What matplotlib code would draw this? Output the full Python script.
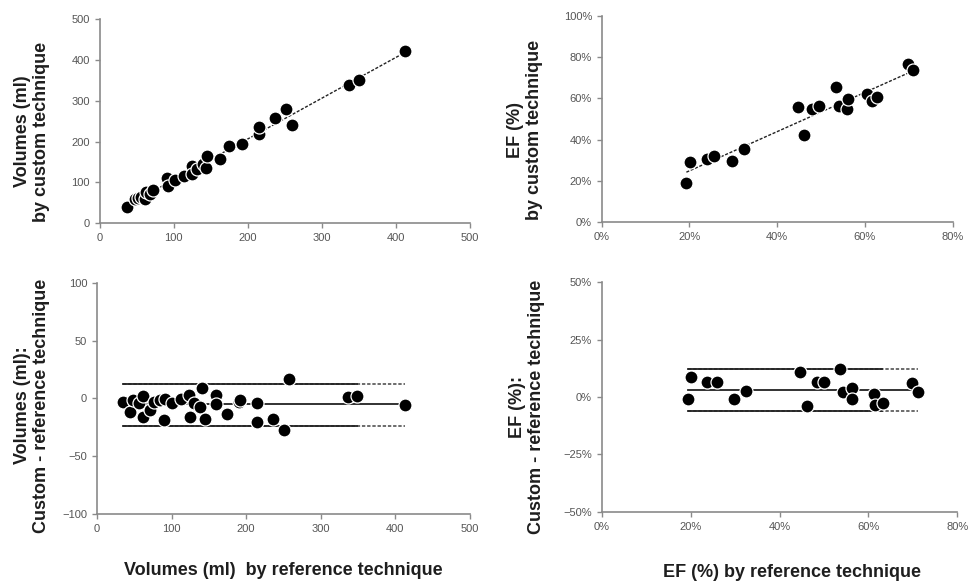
import numpy as np
import matplotlib.pyplot as plt
from matplotlib.ticker import PercentFormatter

plt.rcParams['font.family'] = ['Liberation Sans', 'DejaVu Sans']

# volumes: custom vs reference (top left)
vol_ref = [37, 48, 52, 56, 61, 63, 68, 72, 91, 92, 101, 114, 125, 125, 131, 140, 144, 145,
           162, 175, 192, 215, 215, 237, 251, 259, 337, 350, 412]
vol_cust = [39, 60, 62, 64, 60, 76, 72, 82, 111, 92, 105, 117, 140, 121, 133, 146, 136, 164,
            158, 189, 195, 219, 236, 257, 281, 242, 339, 350, 421]

# volumes: difference plot (bottom left)
vol_ref_b = [35, 45, 49, 56, 62, 62, 71, 77, 84, 91, 90, 101, 113, 124, 125, 130, 138, 141,
             145, 159, 159, 174, 191, 192, 214, 214, 236, 251, 257, 337, 349, 413]
vol_diff = [-3, -12, -1, -4, 2, -16, -10, -3, -1, -0.5, -19, -4, -0.5, 3, -16, -4, -7, 9,
            -18, 3, -5, -13, -3, -1, -4, -20, -18, -27, 17, 1, 2.5, -5.5]
vol_mean, vol_upper, vol_lower, vol_solid_end = -5, 12.5, -23.5, 348

# EF: custom vs reference (top right)
ef_ref = [19.3, 20.1, 23.9, 25.6, 29.8, 32.4, 44.7, 46.1, 48.0, 49.5, 53.5, 54.2, 56.0, 56.1,
          60.5, 61.6, 62.8, 69.9, 70.9]
ef_cust = [18.9, 29.0, 30.5, 32.0, 29.4, 35.5, 55.6, 42.3, 54.9, 56.4, 65.3, 56.1, 54.9, 59.6,
           62.0, 58.5, 60.6, 76.6, 73.7]

# EF: difference plot (bottom right)
ef_ref_b = [19.5, 20.0, 23.6, 25.9, 29.8, 32.4, 44.6, 46.1, 48.4, 50.0, 53.6, 54.3, 56.2, 56.4,
            61.3, 61.5, 63.2, 69.7, 71.2]
ef_diff = [-0.9, 8.8, 6.6, 6.6, -0.9, 2.6, 10.7, -3.8, 6.6, 6.4, 12.0, 2.3, 4.0, -0.7,
           1.3, -3.5, -2.5, 6.2, 2.0]
ef_mean, ef_upper, ef_lower, ef_solid_end = 3.0, 12.4, -6.1, 63

gray = '#8a8a8a'
tick_col = '#555555'
lab_col = '#1e1e1e'
lab_size = 13


def style(ax, xlim, ylim, xticks, yticks, pct=False):
    for s in ['top', 'right']:
        ax.spines[s].set_visible(False)
    for s in ['left', 'bottom']:
        ax.spines[s].set_color(gray)
        ax.spines[s].set_linewidth(1.2)
    ax.set_xlim(*xlim)
    ax.set_ylim(*ylim)
    ax.set_xticks(xticks)
    ax.set_yticks(yticks)
    ax.tick_params(colors=gray, labelcolor=tick_col, labelsize=8, length=3.5, width=1, direction='out')
    if pct:
        ax.xaxis.set_major_formatter(PercentFormatter(decimals=0))
        ax.yaxis.set_major_formatter(PercentFormatter(decimals=0))


def dots(ax, x, y):
    ax.scatter(x, y, s=88, c='black', edgecolors='white', linewidths=0.9, zorder=3)


def trend(ax, x, y):
    k, b = np.polyfit(x, y, 1)
    xx = np.array([min(x), max(x)])
    ax.plot(xx, k*xx+b, color='#222222', lw=1.0, ls=(0, (2.2, 1.2)), zorder=2)


def limits(ax, x, mean, up, lo, solid_end):
    x0, x1 = min(x), max(x)
    ax.plot([x0, x1], [mean, mean], color='#222222', lw=1.3, zorder=2)
    for v in (up, lo):
        ax.plot([x0, x1], [v, v], color='#444444', lw=1.1, ls=(0, (2.2, 1.2)), zorder=2)
        ax.plot([x0, solid_end], [v, v], color='#222222', lw=1.3, zorder=2)


def ylab(ax, text, x, y):
    ax.set_ylabel(text, fontsize=lab_size, fontweight='bold', color=lab_col, linespacing=1.15)
    ax.yaxis.set_label_coords(x, y)


fig = plt.figure(figsize=(9.69, 5.83), dpi=100)
ax1 = fig.add_axes([0.103, 0.617, 0.382, 0.350])
ax2 = fig.add_axes([0.621, 0.619, 0.362, 0.354])
ax3 = fig.add_axes([0.100, 0.118, 0.385, 0.397])
ax4 = fig.add_axes([0.621, 0.122, 0.367, 0.394])

# top left
trend(ax1, vol_ref, vol_cust)
dots(ax1, vol_ref, vol_cust)
style(ax1, (0, 500), (0, 500), range(0, 501, 100), range(0, 501, 100))
ylab(ax1, 'Volumes (ml)\nby custom technique', -0.135, 0.45)

# top right
trend(ax2, ef_ref, ef_cust)
dots(ax2, ef_ref, ef_cust)
style(ax2, (0, 80), (0, 100), range(0, 81, 20), range(0, 101, 20), pct=True)
ylab(ax2, 'EF (%)\nby custom technique', -0.168, 0.447)

# bottom left
limits(ax3, vol_ref_b, vol_mean, vol_upper, vol_lower, vol_solid_end)
dots(ax3, vol_ref_b, vol_diff)
style(ax3, (0, 500), (-100, 100), range(0, 501, 100), range(-100, 101, 50))
ylab(ax3, 'Volumes (ml):\nCustom - reference technique', -0.126, 0.47)
ax3.text(0.5, -0.242, 'Volumes (ml)  by reference technique', transform=ax3.transAxes,
         ha='center', va='center', fontsize=lab_size, fontweight='bold', color=lab_col)

# bottom right
limits(ax4, ef_ref_b, ef_mean, ef_upper, ef_lower, ef_solid_end)
dots(ax4, ef_ref_b, ef_diff)
style(ax4, (0, 80), (-50, 50), range(0, 81, 20), range(-50, 51, 25), pct=True)
ylab(ax4, 'EF (%):\nCustom - reference technique', -0.16, 0.458)
ax4.text(0.534, -0.265, 'EF (%) by reference technique', transform=ax4.transAxes,
         ha='center', va='center', fontsize=lab_size, fontweight='bold', color=lab_col)

fig.savefig('out.png', dpi=100)
